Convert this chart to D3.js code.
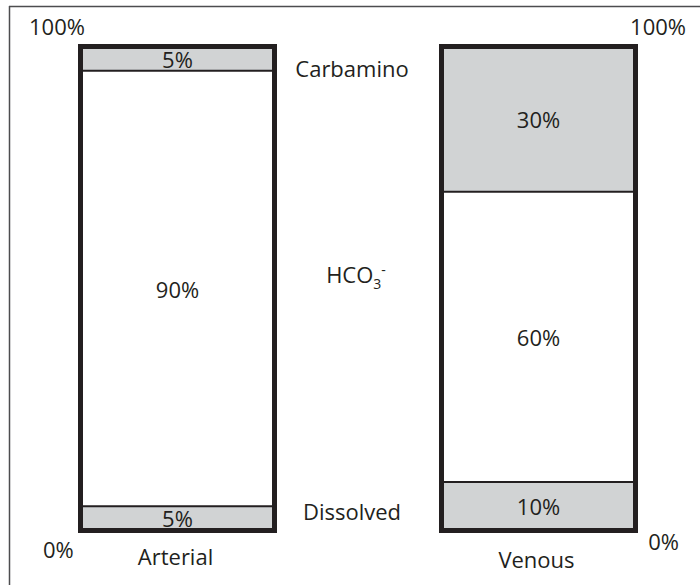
<!DOCTYPE html>
<html>
<head>
<meta charset="utf-8">
<script src="https://cdn.jsdelivr.net/npm/d3@7"></script>
<style>
  html, body { margin: 0; padding: 0; background: #fff; }
  svg { display: block; }
  text { font-family: "Open Sans", "Noto Sans", sans-serif; fill: #231f20; }
</style>
</head>
<body>
<svg id="chart" width="700" height="585"></svg>
<script>
// ---- data ----
const bars = ["Arterial", "Venous"];
const components = ["Dissolved", "HCO3", "Carbamino"];   // bottom -> top
const arterialValues = [5, 90, 5];
const venousValues = [10, 60, 30];
const tickLabels = ["0%", "100%"];
const tickValues = [0, 100];

// ---- layout ----
const W = 700, H = 585;
const svg = d3.select("#chart");
const ink = "#231f20";
const grey = "#d1d3d4";
const fills = { Dissolved: grey, HCO3: "#ffffff", Carbamino: grey };

const x = d3.scaleBand().domain(bars).range([80.5, 635.5]).paddingInner(0.4626).paddingOuter(0);
const y = d3.scaleLinear().domain([0, 100]).range([530.5, 46.5]);

// frame (top and left edges only, as in the reference)
svg.append("line").attr("x1", 9).attr("x2", W).attr("y1", 6.5).attr("y2", 6.5)
  .attr("stroke", "#4d4d4f").attr("stroke-width", 1.5);
svg.append("line").attr("x1", 9.5).attr("x2", 9.5).attr("y1", 6).attr("y2", H)
  .attr("stroke", "#4d4d4f").attr("stroke-width", 1.5);

const valuesByBar = { Arterial: arterialValues, Venous: venousValues };
const rows = bars.map(b => {
  const r = { bar: b };
  components.forEach((c, i) => r[c] = valuesByBar[b][i]);
  return r;
});
const stack = d3.stack().keys(components)(rows);

const fs = 22;

// segments
stack.forEach(layer => {
  const key = layer.key;
  layer.forEach(seg => {
    const b = seg.data.bar;
    const x0 = x(b), bw = x.bandwidth();
    const yTop = y(seg[1]), yBot = y(seg[0]);
    svg.append("rect")
      .attr("x", x0).attr("y", yTop)
      .attr("width", bw).attr("height", yBot - yTop)
      .attr("fill", fills[key]);
    svg.append("text")
      .attr("x", x0 + bw / 2)
      .attr("y", (yTop + yBot) / 2)
      .attr("text-anchor", "middle")
      .attr("dominant-baseline", "central")
      .attr("font-size", fs)
      .text((seg[1] - seg[0]) + "%");
  });
});

// dividers between segments
bars.forEach(b => {
  const x0 = x(b), bw = x.bandwidth();
  let cum = 0;
  valuesByBar[b].slice(0, -1).forEach(v => {
    cum += v;
    svg.append("line")
      .attr("x1", x0).attr("x2", x0 + bw)
      .attr("y1", y(cum)).attr("y2", y(cum))
      .attr("stroke", ink).attr("stroke-width", 2);
  });
  // outer frame of the bar
  svg.append("rect")
    .attr("x", x0).attr("y", y(100))
    .attr("width", bw).attr("height", y(0) - y(100))
    .attr("fill", "none").attr("stroke", ink).attr("stroke-width", 5);
  // category label below
  svg.append("text")
    .attr("x", x0 + bw / 2 - 2)
    .attr("y", b === "Arterial" ? 565 : 568)
    .attr("text-anchor", "middle")
    .attr("font-size", fs)
    .text(b);
});

// tick labels (left of arterial, right of venous)
svg.append("text").attr("x", 29).attr("y", 35).attr("font-size", fs).text(tickLabels[1]);
svg.append("text").attr("x", 43).attr("y", 558).attr("font-size", fs).text(tickLabels[0]);
svg.append("text").attr("x", 686).attr("y", 35).attr("text-anchor", "end").attr("font-size", fs).text(tickLabels[1]);
svg.append("text").attr("x", 679).attr("y", 550).attr("text-anchor", "end").attr("font-size", fs).text(tickLabels[0]);

// component labels in the gap
const midX = 352;
svg.append("text").attr("x", midX).attr("y", 77).attr("text-anchor", "middle")
  .attr("font-size", fs).text("Carbamino");
svg.append("text").attr("x", midX).attr("y", 520).attr("text-anchor", "middle")
  .attr("font-size", fs).text("Dissolved");
const hco = svg.append("text").attr("x", 356).attr("y", 283).attr("text-anchor", "middle")
  .attr("font-size", fs);
hco.append("tspan").text("HCO");
hco.append("tspan").attr("font-size", 14).attr("dy", 6).text("3");
hco.append("tspan").attr("font-size", 14).attr("dy", -14).text("-");
</script>
</body>
</html>
